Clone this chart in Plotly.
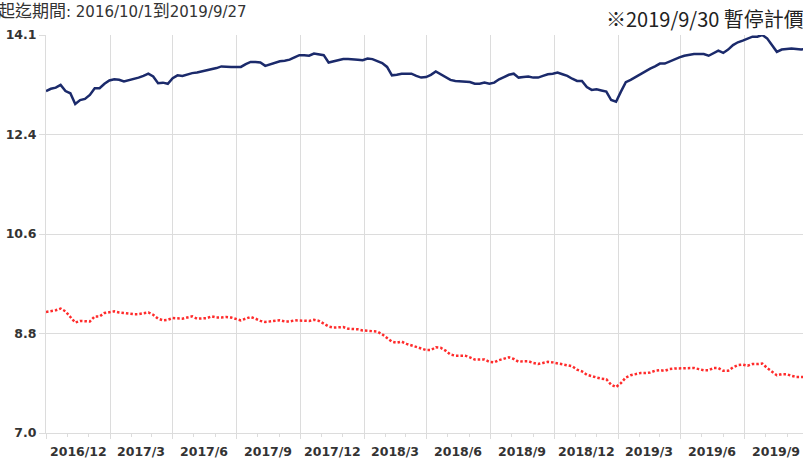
import plotly.graph_objects as go
import pandas as pd

# ---- data (weekly readings from 2016/10/1, last point 2019/9/27) ----
dates = list(pd.date_range("2016-10-01", "2019-09-21", freq="7D")) + [pd.Timestamp("2019-09-27")]

blue_values = [
    13.10, 13.14, 13.16, 13.21, 13.10, 13.06, 12.87, 12.94, 12.96, 13.03,
    13.15, 13.15, 13.23, 13.29, 13.31, 13.30, 13.27, 13.29, 13.31, 13.34,
    13.37, 13.41, 13.36, 13.24, 13.25, 13.23, 13.33, 13.38, 13.37, 13.40,
    13.42, 13.43, 13.45, 13.47, 13.48, 13.51, 13.54, 13.53, 13.53, 13.53,
    13.53, 13.58, 13.62, 13.62, 13.61, 13.55, 13.58, 13.61, 13.63, 13.64,
    13.66, 13.70, 13.74, 13.74, 13.73, 13.77, 13.75, 13.74, 13.61, 13.63,
    13.65, 13.67, 13.67, 13.67, 13.66, 13.65, 13.68, 13.67, 13.63, 13.60,
    13.53, 13.38, 13.39, 13.41, 13.41, 13.41, 13.37, 13.34, 13.35, 13.39,
    13.45, 13.40, 13.36, 13.30, 13.28, 13.27, 13.27, 13.26, 13.23, 13.23,
    13.25, 13.23, 13.25, 13.31, 13.35, 13.39, 13.41, 13.34, 13.35, 13.36,
    13.34, 13.34, 13.37, 13.40, 13.41, 13.43, 13.40, 13.37, 13.32, 13.28,
    13.28, 13.17, 13.12, 13.13, 13.11, 13.09, 12.94, 12.91, 13.09, 13.26,
    13.30, 13.35, 13.41, 13.46, 13.50, 13.54, 13.59, 13.59, 13.63, 13.66,
    13.70, 13.73, 13.75, 13.76, 13.76, 13.76, 13.73, 13.77, 13.82, 13.78,
    13.84, 13.92, 13.97, 14.00, 14.03, 14.07, 14.07, 14.10, 14.04, 13.91,
    13.80, 13.84, 13.85, 13.86, 13.85, 13.84, 13.85,
]

red_values = [
    9.16, 9.17, 9.19, 9.22, 9.17, 9.07, 8.97, 9.00, 9.00, 8.99,
    9.08, 9.08, 9.14, 9.16, 9.17, 9.15, 9.14, 9.12, 9.12, 9.12,
    9.14, 9.15, 9.11, 9.04, 9.01, 9.02, 9.05, 9.04, 9.04, 9.06,
    9.08, 9.04, 9.05, 9.05, 9.08, 9.06, 9.06, 9.07, 9.06, 9.04,
    9.01, 9.04, 9.07, 9.04, 9.00, 8.98, 8.99, 9.00, 9.01, 8.99,
    8.99, 9.01, 9.01, 9.00, 9.00, 9.02, 9.00, 8.95, 8.90, 8.88,
    8.89, 8.89, 8.86, 8.86, 8.85, 8.83, 8.82, 8.82, 8.81, 8.76,
    8.69, 8.63, 8.61, 8.63, 8.59, 8.56, 8.53, 8.51, 8.48, 8.48,
    8.53, 8.52, 8.47, 8.40, 8.38, 8.38, 8.38, 8.35, 8.31, 8.31,
    8.31, 8.27, 8.26, 8.30, 8.32, 8.35, 8.32, 8.27, 8.28, 8.28,
    8.25, 8.23, 8.25, 8.27, 8.26, 8.24, 8.23, 8.21, 8.19, 8.13,
    8.10, 8.04, 8.01, 7.99, 7.97, 7.96, 7.86, 7.82, 7.89, 7.99,
    8.03, 8.05, 8.07, 8.07, 8.08, 8.11, 8.12, 8.11, 8.14, 8.15,
    8.15, 8.15, 8.15, 8.16, 8.14, 8.12, 8.12, 8.16, 8.16, 8.11,
    8.11, 8.17, 8.21, 8.22, 8.20, 8.23, 8.23, 8.24, 8.16, 8.10,
    8.03, 8.05, 8.05, 8.02, 8.00, 8.00, 8.00,
]

quarter_starts = [
    "2016-10-01", "2017-01-01", "2017-04-01", "2017-07-01", "2017-10-01",
    "2018-01-01", "2018-04-01", "2018-07-01", "2018-10-01", "2019-01-01",
    "2019-04-01", "2019-07-01", "2019-10-01",
]
quarter_labels = [
    "2016/12", "2017/3", "2017/6", "2017/9", "2017/12", "2018/3",
    "2018/6", "2018/9", "2018/12", "2019/3", "2019/6", "2019/9",
]
y_tickvals = [7.0, 8.775, 10.55, 12.325, 14.1]
y_ticktext = ["7.0", "8.8", "10.6", "12.4", "14.1"]

period_text = "起迄期間: 2016/10/1到2019/9/27"
note_text = "※2019/9/30 暫停計價"

GRID = "#dcdcdc"
TXT = "#333333"

fig = go.Figure()
fig.add_trace(go.Scatter(
    x=dates, y=red_values, mode="lines",
    line=dict(color="#ff2b2b", width=2.5, dash="2.5px,2px"),
    hoverinfo="skip", showlegend=False,
))
fig.add_trace(go.Scatter(
    x=dates, y=blue_values, mode="lines",
    line=dict(color="#1b2a6b", width=2.5),
    hoverinfo="skip", showlegend=False,
))

# quarter mid-points for the labels
qs = pd.to_datetime(quarter_starts)
mids = [qs[i] + (qs[i + 1] - qs[i]) / 2 for i in range(len(quarter_labels))]

annotations = []
for m, lab in zip(mids, quarter_labels):
    annotations.append(dict(
        x=m, xref="x", y=0, yref="paper", yanchor="middle", yshift=-18,
        text=lab, showarrow=False,
        font=dict(family="DejaVu Sans", size=12.5, color=TXT, weight="bold"),
    ))

cjk = period_text.split(":")[0]
rest = period_text.split(":")[1]
left_html = ("<span style='font-size:17px'>" + cjk + "</span>:"
             + rest.replace("到", "<span style='font-size:17px'>到</span>"))
annotations.append(dict(
    x=-0.066, xref="paper", xanchor="left", y=1.06, yref="paper", yanchor="middle",
    text=left_html, showarrow=False,
    font=dict(family="DejaVu Sans, Noto Sans CJK TC", size=15, color=TXT),
))
annotations.append(dict(
    x=1.004, xref="paper", xanchor="right", y=1.0415, yref="paper", yanchor="middle",
    text=note_text, showarrow=False,
    font=dict(family="Noto Sans CJK TC", size=20, color="#222222"),
))

fig.update_layout(
    width=803, height=458,
    margin=dict(l=46, r=0, t=35, b=25, pad=0),
    paper_bgcolor="white", plot_bgcolor="white",
    annotations=annotations,
    xaxis=dict(
        type="date",
        range=["2016-10-01", "2019-09-23 14:00"],
        tickmode="array", tickvals=quarter_starts,
        showticklabels=False,
        ticks="outside", ticklen=5, tickcolor=GRID,
        showgrid=True, gridcolor=GRID, gridwidth=1,
        showline=True, linecolor=GRID, linewidth=1,
        zeroline=False,
        minor=dict(dtick="M1", tick0="2016-10-01", ticks="outside",
                   ticklen=3, tickcolor=GRID, showgrid=False),
    ),
    yaxis=dict(
        range=[7.0, 14.1],
        tickmode="array", tickvals=y_tickvals, ticktext=y_ticktext,
        ticks="outside", ticklen=6, tickcolor=GRID,
        showgrid=True, gridcolor=GRID, gridwidth=1,
        showline=True, linecolor=GRID, linewidth=1,
        zeroline=False,
        tickfont=dict(family="DejaVu Sans", size=12.5, color=TXT, weight="bold"),
    ),
)

fig.write_html(
    "out.html",
    config={"displayModeBar": False},
    post_script="document.body.style.margin='0';document.body.style.overflow='hidden';",
)
